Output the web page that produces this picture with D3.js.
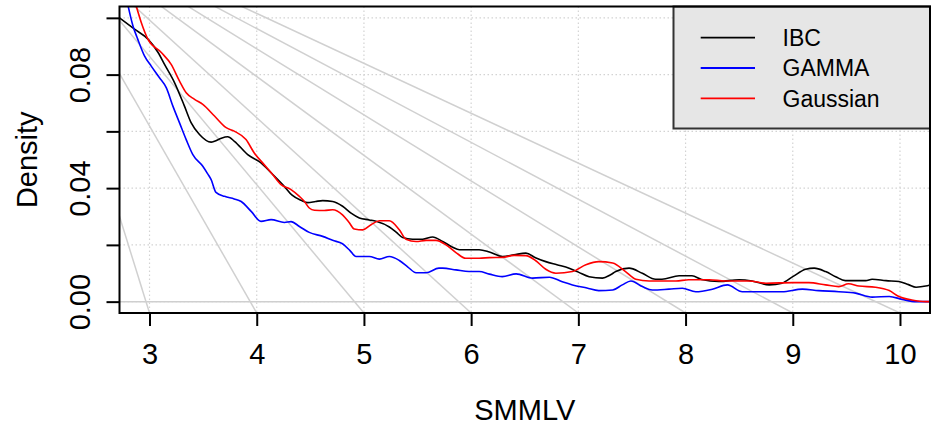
<!DOCTYPE html>
<html>
<head>
<meta charset="utf-8">
<script src="https://cdn.jsdelivr.net/npm/d3@7"></script>
<style>
  html, body { margin: 0; padding: 0; background: #ffffff; }
  svg { display: block; }
  text { font-family: "Liberation Sans", Arial, Helvetica, sans-serif; fill: #000; }
</style>
</head>
<body>
<svg id="chart" width="932" height="434"></svg>
<script>
// Kernel density estimates of SMMLV under three kernels: [SMMLV, density]
const ibc = [
  [2.72,0.1000],[2.86,0.0960],[2.985,0.0925],[3.08,0.0878],[3.14,0.0836],[3.233,0.0772],
  [3.326,0.0689],[3.389,0.0630],[3.466,0.0589],[3.575,0.0562],[3.606,0.0565],[3.67,0.0576],
  [3.73,0.0581],[3.792,0.0565],[3.916,0.0518],[4.04,0.0489],[4.134,0.0454],[4.258,0.0406],
  [4.33,0.0375],[4.414,0.0357],[4.476,0.0349],[4.55,0.0353],[4.615,0.0356],[4.708,0.0353],
  [4.801,0.0336],[4.88,0.0312],[4.957,0.0295],[5.05,0.0288],[5.113,0.0283],[5.237,0.0263],
  [5.30,0.0245],[5.361,0.0226],[5.454,0.0220],[5.548,0.0220],[5.641,0.0228],[5.734,0.0212],
  [5.827,0.0192],[5.89,0.0183],[6.075,0.0183],[6.17,0.0175],[6.293,0.0159],[6.40,0.0165],
  [6.511,0.0171],[6.60,0.0155],[6.696,0.0141],[6.80,0.0130],[6.914,0.0118],[7.00,0.0104],
  [7.10,0.0088],[7.225,0.0083],[7.30,0.0095],[7.349,0.0106],[7.473,0.0118],[7.597,0.0100],
  [7.72,0.0079],[7.78,0.0079],[7.94,0.0091],[8.06,0.0091],[8.15,0.0078],[8.31,0.0071],
  [8.50,0.0077],[8.62,0.0073],[8.78,0.0059],[8.90,0.0065],[9.00,0.0088],[9.12,0.0114],
  [9.20,0.0118],[9.306,0.0106],[9.40,0.0088],[9.49,0.0074],[9.68,0.0074],[9.74,0.0079],
  [9.87,0.0074],[9.99,0.0071],[10.08,0.0060],[10.15,0.0051],[10.24,0.0055],[10.28,0.0059]
];
const gamma = [
  [2.80,0.1042],[2.845,0.0972],[2.89,0.0925],[2.953,0.0866],[3.016,0.0830],[3.093,0.0789],
  [3.156,0.0754],[3.218,0.0689],[3.28,0.0630],[3.342,0.0571],[3.404,0.0518],[3.497,0.0477],
  [3.543,0.0450],[3.575,0.0430],[3.62,0.0385],[3.70,0.0371],[3.79,0.0362],[3.855,0.0353],
  [3.948,0.0318],[4.04,0.0283],[4.134,0.0289],[4.258,0.0279],[4.32,0.0282],[4.398,0.0265],
  [4.49,0.0244],[4.615,0.0230],[4.708,0.0216],[4.80,0.0204],[4.87,0.0180],[4.926,0.0159],
  [5.05,0.0159],[5.144,0.0150],[5.237,0.0159],[5.33,0.0145],[5.41,0.0122],[5.486,0.0102],
  [5.58,0.0102],[5.70,0.0118],[5.734,0.0118],[5.858,0.0112],[5.98,0.0106],[6.075,0.0106],
  [6.17,0.0097],[6.29,0.0088],[6.42,0.0098],[6.573,0.0083],[6.73,0.0086],[6.85,0.0070],
  [6.945,0.0059],[7.08,0.0048],[7.19,0.0039],[7.32,0.0041],[7.41,0.0059],[7.49,0.0073],
  [7.597,0.0053],[7.69,0.0041],[7.846,0.0044],[7.97,0.0047],[8.095,0.0035],[8.25,0.0044],
  [8.39,0.0059],[8.53,0.0035],[8.75,0.0035],[8.90,0.0035],[9.09,0.0044],[9.24,0.0039],
  [9.43,0.0035],[9.585,0.0030],[9.74,0.0016],[9.90,0.0018],[10.02,0.0008],[10.15,0.0000],
  [10.28,0.0000]
];
const gaussian = [
  [2.876,0.1042],[2.923,0.0984],[2.985,0.0925],[3.11,0.0878],[3.202,0.0836],[3.28,0.0777],
  [3.342,0.0736],[3.42,0.0713],[3.497,0.0695],[3.606,0.0654],[3.715,0.0613],[3.79,0.0601],
  [3.90,0.0571],[3.977,0.0524],[4.055,0.0489],[4.148,0.0448],[4.227,0.0412],[4.32,0.0395],
  [4.398,0.0371],[4.445,0.0353],[4.49,0.0330],[4.538,0.0322],[4.63,0.0321],[4.708,0.0324],
  [4.80,0.0306],[4.86,0.0280],[4.91,0.0256],[4.99,0.0253],[5.066,0.0271],[5.144,0.0285],
  [5.237,0.0285],[5.33,0.0253],[5.392,0.0220],[5.486,0.0212],[5.58,0.0216],[5.672,0.0216],
  [5.765,0.0200],[5.858,0.0173],[5.95,0.0153],[6.075,0.0153],[6.17,0.0155],[6.293,0.0156],
  [6.40,0.0163],[6.51,0.0162],[6.60,0.0145],[6.696,0.0114],[6.79,0.0100],[6.945,0.0106],
  [7.07,0.0130],[7.19,0.0141],[7.32,0.0136],[7.44,0.0106],[7.536,0.0079],[7.66,0.0073],
  [7.91,0.0073],[8.03,0.0077],[8.22,0.0077],[8.37,0.0073],[8.59,0.0073],[8.75,0.0065],
  [9.00,0.0067],[9.15,0.0067],[9.306,0.0059],[9.43,0.0053],[9.52,0.0063],[9.617,0.0055],
  [9.77,0.0051],[9.90,0.0039],[9.99,0.0018],[10.11,0.0006],[10.24,0.0000],[10.28,0.0000]
];

const seriesNames = ["IBC", "GAMMA", "Gaussian"];
const seriesColors = ["#000000", "#0000ff", "#ff0000"];

const xTicks = [3, 4, 5, 6, 7, 8, 9, 10];
const yTicks = [0, 0.02, 0.04, 0.06, 0.08, 0.10];
const yTickLabels = ["0.00", "", "0.04", "", "0.08", ""];

// Reference rays: all start from a common apex and run down to each integer SMMLV
const rayApex = [1.815, 0.140];
const rayEnds = [3, 4, 5, 6, 7, 8, 9, 10];

const xLim = [3, 10], yLim = [0, 0.10];
const pad = (lim) => { const d = (lim[1] - lim[0]) * 0.04; return [lim[0] - d, lim[1] + d]; };

const svg = d3.select("#chart");
const plot = { left: 119.5, right: 930, top: 6.5, bottom: 313 };

const x = d3.scaleLinear().domain(pad(xLim)).range([plot.left, plot.right]);
const y = d3.scaleLinear().domain(pad(yLim)).range([plot.bottom, plot.top]);

svg.append("clipPath").attr("id", "clip")
  .append("rect")
  .attr("x", plot.left).attr("y", plot.top)
  .attr("width", plot.right - plot.left).attr("height", plot.bottom - plot.top);

const body = svg.append("g").attr("clip-path", "url(#clip)");

// dotted grid
body.append("g").selectAll("line").data(xTicks).join("line")
  .attr("x1", d => x(d)).attr("x2", d => x(d))
  .attr("y1", plot.top).attr("y2", plot.bottom)
  .attr("stroke", "#d3d3d3").attr("stroke-width", 1.2).attr("stroke-dasharray", "1.5,2.5");
body.append("g").selectAll("line").data(yTicks).join("line")
  .attr("x1", plot.left).attr("x2", plot.right)
  .attr("y1", d => y(d)).attr("y2", d => y(d))
  .attr("stroke", "#d3d3d3").attr("stroke-width", 1.2).attr("stroke-dasharray", "1.5,2.5");

// zero baseline
body.append("line")
  .attr("x1", plot.left).attr("x2", plot.right)
  .attr("y1", y(0)).attr("y2", y(0))
  .attr("stroke", "#cfcfcf").attr("stroke-width", 1.5);

// reference rays
const yLow = pad(yLim)[0];
body.append("g").selectAll("line").data(rayEnds).join("line")
  .attr("x1", x(rayApex[0])).attr("y1", y(rayApex[1]))
  .attr("x2", d => x(d)).attr("y2", y(yLow))
  .attr("stroke", "#d0d0d0").attr("stroke-width", 1.5);

// density curves
const line = d3.line().x(d => x(d[0])).y(d => y(d[1])).curve(d3.curveMonotoneX);
[ibc, gamma, gaussian].forEach((s, i) => {
  body.append("path").datum(s)
    .attr("d", line)
    .attr("fill", "none")
    .attr("stroke", seriesColors[i])
    .attr("stroke-width", 1.6)
    .attr("stroke-linejoin", "round");
});

// legend
const legend = svg.append("g");
const lgX = 673.5, lgY = plot.top, lgW = plot.right - 673.5, lgH = 128.5 - plot.top;
legend.append("rect")
  .attr("x", lgX).attr("y", lgY).attr("width", lgW).attr("height", lgH)
  .attr("fill", "#e6e6e6").attr("stroke", "#333333").attr("stroke-width", 2);
seriesNames.forEach((name, i) => {
  const cy = 37.7 + i * 30.3;
  legend.append("line")
    .attr("x1", 700.7).attr("x2", 755).attr("y1", cy).attr("y2", cy)
    .attr("stroke", seriesColors[i]).attr("stroke-width", 1.8);
  legend.append("text")
    .attr("x", 782.5).attr("y", cy + 8.2)
    .attr("font-size", 23).text(name);
});

// plot frame
svg.append("rect")
  .attr("x", plot.left).attr("y", plot.top)
  .attr("width", plot.right - plot.left).attr("height", plot.bottom - plot.top)
  .attr("fill", "none").attr("stroke", "#000").attr("stroke-width", 2);

// x axis
const xAxis = d3.axisBottom(x).tickValues(xTicks).tickSize(13).tickPadding(0).tickFormat(d3.format("d"));
const gx = svg.append("g").attr("transform", `translate(0,${plot.bottom})`).call(xAxis);
gx.select(".domain").remove();
gx.selectAll(".tick line").attr("stroke", "#000").attr("stroke-width", 2);
gx.selectAll(".tick text")
  .attr("font-size", 29).attr("font-family", "Liberation Sans, Arial, sans-serif")
  .attr("dy", null).attr("y", 364 - plot.bottom);

// y axis
const yAxis = d3.axisLeft(y).tickValues(yTicks).tickSize(13).tickFormat((d, i) => yTickLabels[i]);
const gy = svg.append("g").attr("transform", `translate(${plot.left},0)`).call(yAxis);
gy.select(".domain").remove();
gy.selectAll(".tick line").attr("stroke", "#000").attr("stroke-width", 2);
gy.selectAll(".tick text")
  .attr("font-size", 29).attr("font-family", "Liberation Sans, Arial, sans-serif")
  .attr("x", null).attr("dy", null).attr("text-anchor", "middle")
  .attr("transform", `translate(${90 - plot.left},0) rotate(-90)`);

// axis titles
svg.append("text")
  .attr("x", x(6.5)).attr("y", 420)
  .attr("text-anchor", "middle").attr("font-size", 29).text("SMMLV");
svg.append("text")
  .attr("transform", `translate(36.5,${(plot.top + plot.bottom) / 2}) rotate(-90)`)
  .attr("text-anchor", "middle").attr("font-size", 29).text("Density");
</script>
</body>
</html>
